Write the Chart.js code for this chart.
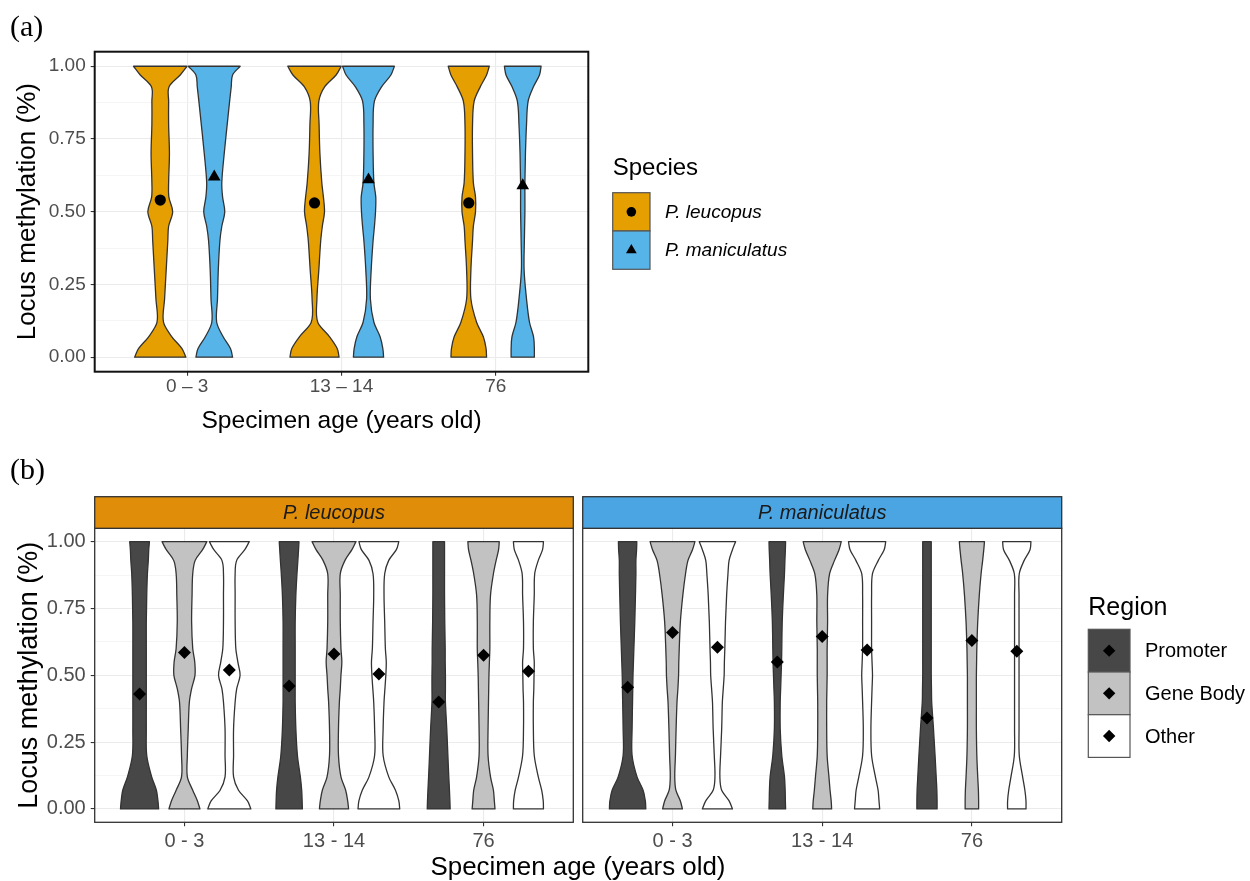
<!DOCTYPE html>
<html>
<head>
<meta charset="utf-8">
<script src="https://cdn.jsdelivr.net/npm/chart.js@4.4.1/dist/chart.umd.min.js"></script>
<style>
  body { margin: 0; background: #fff; width: 1250px; height: 881px; position: relative; overflow: hidden; }
  canvas { position: absolute; }
  .tag { position: absolute; font-family: "Liberation Serif", serif; font-size: 30px; line-height: 30px; color: #000; }
  #xtitleB { position: absolute; left: 378px; width: 400px; top: 853px; text-align: center;
             font-family: "Liberation Sans", Arial, sans-serif; font-size: 25.9px; line-height: 26px; color: #000; }
</style>
</head>
<body>
<canvas id="chartA" width="1250" height="440" style="left:0;top:0"></canvas>
<canvas id="chartB1" width="578" height="441" style="left:0;top:440px"></canvas>
<canvas id="chartB2" width="672" height="441" style="left:578px;top:440px"></canvas>
<div class="tag" style="left:10px;top:11px">(a)</div>
<div class="tag" style="left:10px;top:454px">(b)</div>
<div id="xtitleB">Specimen age (years old)</div>
<script>
// ---- data ----
const ageGroups = ['0 \u2013 3', '13 \u2013 14', '76'];
const ageGroupsB = ['0 - 3', '13 - 14', '76'];
const species = ['P. leucopus', 'P. maniculatus'];
const regions = ['Promoter', 'Gene Body', 'Other'];
const yTicks = [0, 0.25, 0.5, 0.75, 1];
const yTickLabels = ['0.00', '0.25', '0.50', '0.75', '1.00'];
const yMinor = [0.125, 0.375, 0.625, 0.875];

// methylation levels at which the violin widths were read (relative half-width, 1 = widest)
const densityLevels = [0, 0.03, 0.07, 0.12, 0.2, 0.3, 0.4, 0.45, 0.5, 0.55, 0.6, 0.7, 0.8, 0.88, 0.93, 0.97, 1];

// (a) by species, one violin per age group
const leucopusWidths = [
  [0.95, 0.80, 0.43, 0.12, 0.16, 0.22, 0.28, 0.31, 0.46, 0.32, 0.31, 0.34, 0.31, 0.31, 0.33, 0.74, 0.99],
  [0.91, 0.84, 0.56, 0.12, 0.09, 0.16, 0.23, 0.29, 0.37, 0.33, 0.27, 0.20, 0.17, 0.16, 0.38, 0.80, 0.99],
  [0.66, 0.64, 0.54, 0.29, 0.08, 0.08, 0.14, 0.17, 0.25, 0.25, 0.17, 0.14, 0.14, 0.20, 0.43, 0.66, 0.76]
];
const maniculatusWidths = [
  [0.68, 0.60, 0.33, 0.09, 0.12, 0.15, 0.21, 0.28, 0.39, 0.31, 0.28, 0.37, 0.48, 0.57, 0.63, 0.68, 0.96],
  [0.56, 0.53, 0.43, 0.20, 0.07, 0.10, 0.17, 0.22, 0.26, 0.27, 0.20, 0.17, 0.17, 0.22, 0.49, 0.83, 0.96],
  [0.43, 0.43, 0.40, 0.25, 0.14, 0.05, 0.06, 0.07, 0.08, 0.08, 0.08, 0.10, 0.14, 0.20, 0.40, 0.62, 0.68]
];
const leucopusMeans = [0.54, 0.53, 0.53];
const maniculatusMeans = [0.62, 0.61, 0.59];

// (b) by species and region
const leuPromoter = [
  [0.85, 0.82, 0.75, 0.54, 0.32, 0.30, 0.30, 0.30, 0.30, 0.30, 0.30, 0.30, 0.32, 0.35, 0.39, 0.41, 0.44],
  [0.59, 0.58, 0.56, 0.50, 0.37, 0.30, 0.27, 0.27, 0.27, 0.27, 0.27, 0.27, 0.30, 0.35, 0.39, 0.42, 0.44],
  [0.51, 0.50, 0.48, 0.45, 0.41, 0.36, 0.30, 0.30, 0.30, 0.29, 0.29, 0.27, 0.26, 0.26, 0.26, 0.26, 0.26]
];
const leuGeneBody = [
  [0.69, 0.58, 0.37, 0.13, 0.13, 0.17, 0.22, 0.32, 0.47, 0.46, 0.37, 0.32, 0.34, 0.37, 0.48, 0.81, 1.00],
  [0.65, 0.61, 0.52, 0.31, 0.20, 0.20, 0.24, 0.28, 0.31, 0.35, 0.31, 0.28, 0.28, 0.28, 0.49, 0.80, 0.98],
  [0.51, 0.48, 0.44, 0.31, 0.20, 0.20, 0.22, 0.23, 0.24, 0.26, 0.28, 0.28, 0.31, 0.44, 0.56, 0.67, 0.70]
];
const leuOther = [
  [0.96, 0.81, 0.41, 0.19, 0.19, 0.19, 0.26, 0.33, 0.48, 0.38, 0.29, 0.26, 0.26, 0.26, 0.33, 0.69, 0.89],
  [0.93, 0.89, 0.74, 0.44, 0.19, 0.19, 0.23, 0.27, 0.31, 0.33, 0.29, 0.26, 0.23, 0.26, 0.44, 0.78, 0.89],
  [0.67, 0.66, 0.59, 0.44, 0.26, 0.22, 0.22, 0.24, 0.25, 0.26, 0.22, 0.22, 0.26, 0.28, 0.44, 0.63, 0.67]
];
const manPromoter = [
  [0.81, 0.79, 0.69, 0.42, 0.20, 0.20, 0.22, 0.23, 0.24, 0.26, 0.28, 0.32, 0.35, 0.37, 0.37, 0.40, 0.41],
  [0.37, 0.36, 0.35, 0.32, 0.20, 0.13, 0.13, 0.15, 0.17, 0.19, 0.20, 0.22, 0.27, 0.32, 0.34, 0.36, 0.37],
  [0.45, 0.45, 0.44, 0.41, 0.36, 0.29, 0.21, 0.20, 0.19, 0.19, 0.19, 0.19, 0.19, 0.19, 0.19, 0.19, 0.19]
];
const manGeneBody = [
  [0.44, 0.35, 0.15, 0.10, 0.13, 0.16, 0.20, 0.24, 0.27, 0.28, 0.30, 0.35, 0.46, 0.58, 0.69, 0.89, 1.00],
  [0.42, 0.40, 0.35, 0.30, 0.22, 0.20, 0.20, 0.21, 0.22, 0.22, 0.22, 0.24, 0.24, 0.33, 0.55, 0.75, 0.85],
  [0.30, 0.30, 0.29, 0.26, 0.22, 0.20, 0.20, 0.20, 0.20, 0.21, 0.22, 0.26, 0.33, 0.41, 0.48, 0.53, 0.56]
];
const manOther = [
  [0.67, 0.52, 0.19, 0.11, 0.14, 0.19, 0.22, 0.26, 0.30, 0.31, 0.33, 0.36, 0.41, 0.47, 0.52, 0.67, 0.81],
  [0.56, 0.53, 0.49, 0.37, 0.20, 0.17, 0.20, 0.22, 0.24, 0.22, 0.20, 0.20, 0.20, 0.24, 0.50, 0.76, 0.83],
  [0.41, 0.41, 0.36, 0.26, 0.11, 0.10, 0.10, 0.10, 0.10, 0.10, 0.10, 0.10, 0.10, 0.11, 0.33, 0.59, 0.63]
];
const leuPromoterMeans = [0.43, 0.46, 0.40];
const leuGeneBodyMeans = [0.585, 0.58, 0.575];
const leuOtherMeans = [0.52, 0.505, 0.515];
const manPromoterMeans = [0.455, 0.55, 0.34];
const manGeneBodyMeans = [0.66, 0.645, 0.63];
const manOtherMeans = [0.605, 0.595, 0.59];

// ---- styling ----
const FONT = '"Liberation Sans", Arial, sans-serif';
const speciesFill = ['#E69F00', '#56B4E9'];
const stripFill = ['#E08D0A', '#4BA5E2'];
const regionFill = ['#474747', '#C2C2C2', '#FFFFFF'];
const yGrid = yTicks.concat(yMinor).sort((a, b) => a - b);
const isMajor = v => yTicks.indexOf(v) >= 0;

// one side of a violin, hermite curve with the level as parameter
function smoothSide(ctx, pts, t) {
  const n = pts.length;
  const m = pts.map((p, i) => {
    const a = Math.max(i - 1, 0), b = Math.min(i + 1, n - 1);
    const dt = t[b] - t[a];
    return [(pts[b][0] - pts[a][0]) / dt, (pts[b][1] - pts[a][1]) / dt];
  });
  for (let i = 0; i < n - 1; i++) {
    const h = t[i + 1] - t[i];
    ctx.bezierCurveTo(pts[i][0] + m[i][0] * h / 3, pts[i][1] + m[i][1] * h / 3,
      pts[i + 1][0] - m[i + 1][0] * h / 3, pts[i + 1][1] - m[i + 1][1] * h / 3,
      pts[i + 1][0], pts[i + 1][1]);
  }
}

function violinLayer(items, halfUnit, stroke) {
  return {
    id: 'violins',
    beforeDatasetsDraw(chart) {
      const { ctx, chartArea: a, scales: { x, y } } = chart;
      const n = densityLevels.length;
      ctx.save();
      ctx.beginPath();
      ctx.rect(a.left, a.top, a.right - a.left, a.bottom - a.top);
      ctx.clip();
      items.forEach(v => {
        const right = densityLevels.map((lv, i) => [x.getPixelForValue(v.cx + v.widths[i] * halfUnit), y.getPixelForValue(lv)]);
        const left = densityLevels.map((lv, i) => [x.getPixelForValue(v.cx - v.widths[i] * halfUnit), y.getPixelForValue(lv)]);
        ctx.beginPath();
        ctx.moveTo(left[0][0], left[0][1]);
        ctx.lineTo(right[0][0], right[0][1]);
        smoothSide(ctx, right, densityLevels);
        ctx.lineTo(left[n - 1][0], left[n - 1][1]);
        smoothSide(ctx, left.slice().reverse(), densityLevels.slice().reverse());
        ctx.closePath();
        ctx.fillStyle = v.fill;
        ctx.fill();
        ctx.lineWidth = 1.3;
        ctx.lineJoin = 'round';
        ctx.strokeStyle = stroke;
        ctx.stroke();
      });
      ctx.restore();
    }
  };
}

function frameLayer(color, width) {
  return {
    id: 'frame',
    afterDraw(chart) {
      const { ctx, chartArea: a } = chart;
      ctx.save();
      ctx.strokeStyle = color;
      ctx.lineWidth = width;
      ctx.strokeRect(a.left, a.top, a.right - a.left, a.bottom - a.top);
      ctx.restore();
    }
  };
}

function stripLayer(text, fill) {
  return {
    id: 'strip',
    afterDraw(chart) {
      const { ctx, chartArea: a } = chart;
      const h = 31.6;
      ctx.save();
      ctx.fillStyle = fill;
      ctx.fillRect(a.left, a.top - h, a.right - a.left, h);
      ctx.strokeStyle = '#333';
      ctx.lineWidth = 1.3;
      ctx.strokeRect(a.left, a.top - h, a.right - a.left, h);
      ctx.fillStyle = '#1A1A1A';
      ctx.font = 'italic 20px ' + FONT;
      ctx.textAlign = 'center';
      ctx.textBaseline = 'middle';
      ctx.fillText(text, (a.left + a.right) / 2, a.top - h / 2 + 1);
      ctx.restore();
    }
  };
}

function mark(ctx, style, r, x, y) {
  ctx.fillStyle = '#000';
  Chart.helpers.drawPoint(ctx, { pointStyle: style, radius: r, rotation: 0, borderWidth: 0 }, x, y);
}

function legendLayer(cfg) {
  return {
    id: 'legendBox',
    afterDraw(chart) {
      const ctx = chart.ctx;
      ctx.save();
      ctx.fillStyle = '#000';
      ctx.font = cfg.titleSize + 'px ' + FONT;
      ctx.textAlign = 'left';
      ctx.textBaseline = 'alphabetic';
      ctx.fillText(cfg.title, cfg.x, cfg.titleY);
      cfg.labels.forEach((lab, i) => {
        const y0 = cfg.y + i * cfg.h;
        ctx.fillStyle = cfg.fills[i];
        ctx.fillRect(cfg.x, y0, cfg.w, cfg.h);
        ctx.strokeStyle = '#555';
        ctx.lineWidth = 1.2;
        ctx.strokeRect(cfg.x, y0, cfg.w, cfg.h);
        mark(ctx, cfg.styles[i], cfg.radii[i], cfg.x + cfg.w / 2, y0 + cfg.h / 2);
        ctx.fillStyle = '#000';
        ctx.font = cfg.labelFont;
        ctx.textBaseline = 'middle';
        ctx.fillText(lab, cfg.x + cfg.w + 15, y0 + cfg.h / 2 + 1);
      });
      ctx.restore();
    }
  };
}

function yScale(width, showLabels, tickSize, title) {
  return {
    type: 'linear', min: -0.05, max: 1.05,
    afterBuildTicks: s => { s.ticks = yGrid.map(v => ({ value: v })); },
    afterFit: s => { s.width = width; },
    border: { display: false },
    grid: {
      color: c => isMajor(c.tick.value) ? '#EBEBEB' : '#F3F3F3',
      lineWidth: c => isMajor(c.tick.value) ? 1.1 : 0.8,
      tickColor: c => isMajor(c.tick.value) ? '#333' : 'rgba(0,0,0,0)',
      tickLength: 4,
      drawTicks: showLabels
    },
    ticks: {
      display: showLabels, autoSkip: false, padding: 5, color: '#4D4D4D',
      font: { family: FONT, size: tickSize },
      callback: v => { const i = yTicks.indexOf(v); return i >= 0 ? yTickLabels[i] : ''; }
    },
    title: title
  };
}

function xScale(labels, height, tickSize, pad, title) {
  return {
    type: 'linear', min: 0.4, max: 3.6,
    afterBuildTicks: s => { s.ticks = labels.map((_, i) => ({ value: i + 1 })); },
    afterFit: s => { s.height = height; },
    border: { display: false },
    grid: { color: '#EBEBEB', lineWidth: 1.1, tickColor: '#333', tickLength: 4 },
    ticks: {
      autoSkip: false, maxRotation: 0, padding: pad, color: '#4D4D4D',
      font: { family: FONT, size: tickSize },
      callback: v => labels[Math.round(v) - 1]
    },
    title: title || { display: false }
  };
}

function meanSet(label, means, offset, style, r) {
  return {
    label: label,
    data: means.map((m, i) => ({ x: i + 1 + offset, y: m })),
    pointStyle: style, pointRadius: r, pointHoverRadius: r,
    backgroundColor: '#000', borderWidth: 0, showLine: false
  };
}

const common = {
  responsive: false, animation: false, devicePixelRatio: 1,
  plugins: { legend: { display: false }, tooltip: { enabled: false } },
  events: []
};

// ---- (a) ----
const dodgeA = 0.175, halfA = 0.175;
const violinsA = [];
ageGroups.forEach((g, i) => {
  violinsA.push({ cx: i + 1 - dodgeA, widths: leucopusWidths[i], fill: speciesFill[0] });
  violinsA.push({ cx: i + 1 + dodgeA, widths: maniculatusWidths[i], fill: speciesFill[1] });
});

new Chart(document.getElementById('chartA'), {
  type: 'scatter',
  data: {
    datasets: [
      meanSet(species[0], leucopusMeans, -dodgeA, 'circle', 5.6),
      meanSet(species[1], maniculatusMeans, dodgeA, 'triangle', 7.3)
    ]
  },
  options: Object.assign({}, common, {
    layout: { autoPadding: false, padding: { left: 0, top: 51.7, right: 661.7, bottom: 0 } },
    scales: {
      x: xScale(ageGroups, 68.3, 19, 0, {
        display: true, text: 'Specimen age (years old)', color: '#000',
        font: { family: FONT, size: 24.6 }, padding: { top: 0, bottom: 4 }
      }),
      y: yScale(94.7, true, 19, {
        display: true, text: 'Locus methylation (%)', color: '#000',
        font: { family: FONT, size: 26 }, padding: { top: 12, bottom: 0 }
      })
    }
  }),
  plugins: [
    violinLayer(violinsA, halfA, '#333'),
    frameLayer('#111', 2),
    legendLayer({
      title: 'Species', titleSize: 24, x: 612.7, titleY: 175, y: 192.7, w: 37.3, h: 38.3,
      labels: species, fills: speciesFill, styles: ['circle', 'triangle'], radii: [4.8, 6.2],
      labelFont: 'italic 19px ' + FONT
    })
  ]
});

// ---- (b) ----
const dodgeB = 0.3, halfB = 0.15;
const offsetsB = [-dodgeB, 0, dodgeB];

function panelB(canvasId, sets, means, strip, first) {
  const items = [];
  ageGroupsB.forEach((g, i) => {
    sets.forEach((s, r) => items.push({ cx: i + 1 + offsetsB[r], widths: s[i], fill: regionFill[r] }));
  });
  const plugins = [violinLayer(items, halfB, '#333'), frameLayer('#333', 1.3), stripLayer(strip.text, strip.fill)];
  if (!first) {
    plugins.push(legendLayer({
      title: 'Region', titleSize: 25, x: 510.3, titleY: 175, y: 189.3, w: 41.7, h: 42.7,
      labels: regions, fills: regionFill, styles: ['rectRot', 'rectRot', 'rectRot'], radii: [6.2, 6.2, 6.2],
      labelFont: '20px ' + FONT
    }));
  }
  new Chart(document.getElementById(canvasId), {
    type: 'scatter',
    data: { datasets: means.map((m, r) => meanSet(regions[r], m, offsetsB[r], 'rectRot', 6.5)) },
    options: Object.assign({}, common, {
      layout: {
        autoPadding: false,
        padding: first ? { left: 0, top: 88.3, right: 4.7, bottom: 0 } : { left: 4.7, top: 88.3, right: 188.3, bottom: 0 }
      },
      scales: {
        x: xScale(ageGroupsB, 58.7, 20, 3, null),
        y: yScale(first ? 94.7 : 0, first, 20, first ? {
          display: true, text: 'Locus methylation (%)', color: '#000',
          font: { family: FONT, size: 27 }, padding: { top: 13, bottom: 0 }
        } : { display: false })
      }
    }),
    plugins: plugins
  });
}

panelB('chartB1', [leuPromoter, leuGeneBody, leuOther], [leuPromoterMeans, leuGeneBodyMeans, leuOtherMeans],
  { text: species[0], fill: stripFill[0] }, true);
panelB('chartB2', [manPromoter, manGeneBody, manOther], [manPromoterMeans, manGeneBodyMeans, manOtherMeans],
  { text: species[1], fill: stripFill[1] }, false);
</script>
</body>
</html>
